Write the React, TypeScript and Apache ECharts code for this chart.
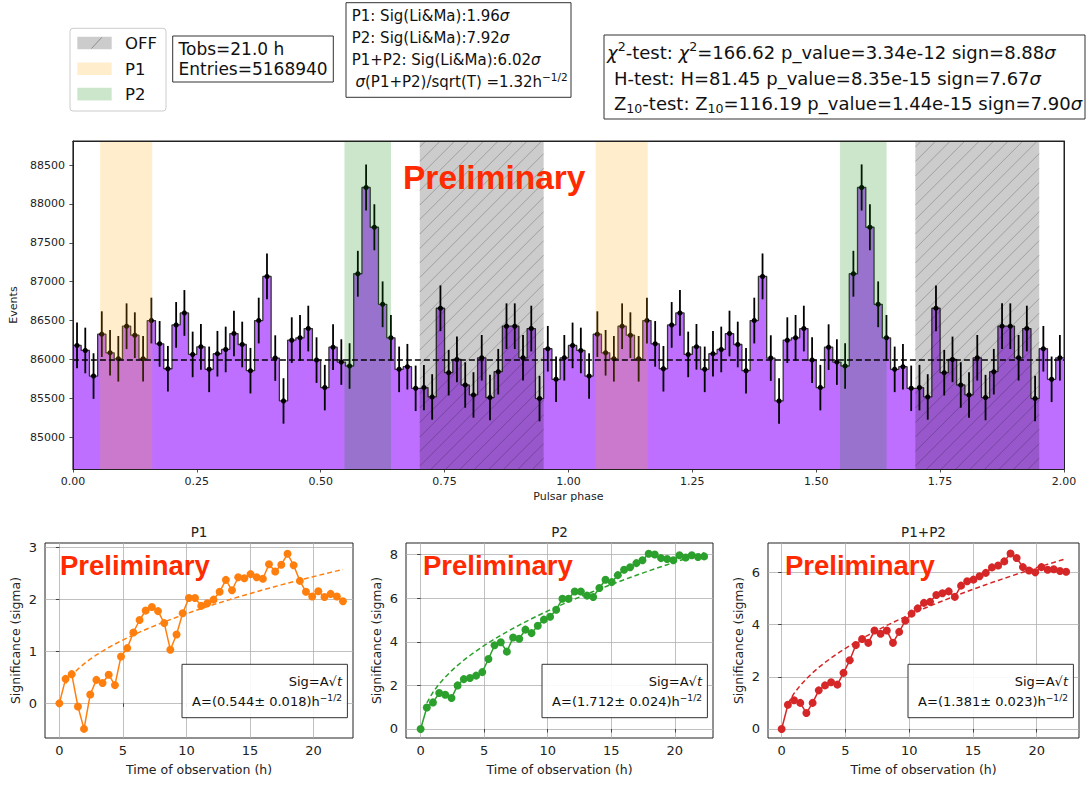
import React, { useEffect, useRef } from 'react';
import * as echarts from 'echarts';

// ---------------- Phasogram (one pulsar cycle, 60 bins; drawn twice over phase 0-2) ----------------
const BINS_PER_CYCLE = 60;
const CYCLES = 2;
const COUNTS = [
  86180, 86115, 85786, 86325, 86085, 86008, 86427, 86312, 86008, 86500,
  86200, 85880, 86444, 86598, 86064, 86162, 85872, 86073, 86128, 86333,
  86192, 85855, 86500, 87068, 86017, 85466, 86248, 86278, 86397, 85991,
  85637, 86158, 85966, 85915, 87102, 88212, 87700, 86709, 86278, 85872,
  85906, 85628, 85637, 85517, 86658, 85829, 86000, 85671, 85543, 86021,
  85509, 85842, 86427, 86427, 86021, 86397, 85496, 86137, 85744, 86021,
];
const BASELINE_LEVEL = 86000;
const OFF_RANGES = [[0.7, 0.95], [1.7, 1.95]];
const P1_RANGES = [[0.055, 0.16], [1.055, 1.16]];
const P2_RANGES = [[0.548, 0.642], [1.548, 1.642]];
const PHASE_TICKS = [0, 0.25, 0.5, 0.75, 1, 1.25, 1.5, 1.75, 2];
const EVENT_TICKS = [85000, 85500, 86000, 86500, 87000, 87500, 88000, 88500];

// ---------------- Significance vs. observation time ----------------
const HOURS = [
  0, 0.49, 0.97, 1.46, 1.94, 2.43, 2.91, 3.4, 3.88, 4.37, 4.85, 5.34, 5.82, 6.31, 6.79, 7.28,
  7.76, 8.25, 8.73, 9.22, 9.7, 10.19, 10.67, 11.16, 11.64, 12.13, 12.61, 13.1, 13.58, 14.07,
  14.55, 15.04, 15.52, 16.01, 16.49, 16.98, 17.46, 17.95, 18.43, 18.92, 19.4, 19.89, 20.37,
  20.86, 21.34, 21.83, 22.31,
];
const SIG_P1 = [
  0, 0.47, 0.56, -0.06, -0.49, 0.17, 0.45, 0.39, 0.55, 0.35,
  0.9, 1.06, 1.36, 1.6, 1.78, 1.85, 1.77, 1.54, 1.03, 1.32,
  1.73, 2.02, 2.02, 1.87, 1.92, 1.99, 2.14, 2.37, 2.17, 2.42,
  2.4, 2.48, 2.42, 2.39, 2.67, 2.53, 2.66, 2.87, 2.65, 2.35,
  2.14, 2.05, 2.15, 2.04, 2.1, 2.05, 1.96,
];
const SIG_P2 = [
  0, 0.99, 1.22, 1.65, 1.57, 1.42, 2.0, 2.29, 2.34, 2.45,
  2.61, 3.21, 3.84, 3.98, 3.55, 4.2, 4.14, 4.56, 4.4, 4.74,
  5.02, 5.15, 5.47, 5.98, 5.98, 6.31, 6.31, 6.12, 6.06, 6.47,
  6.85, 6.74, 7.06, 7.31, 7.42, 7.61, 7.74, 8.04, 8.01, 7.84,
  7.8, 7.74, 7.97, 7.87, 7.97, 7.89, 7.92,
];
const SIG_P1P2 = [
  0, 0.93, 1.1, 1.0, 0.61, 1.0, 1.48, 1.67, 1.79, 1.7,
  2.15, 2.63, 3.22, 3.45, 3.3, 3.77, 3.65, 3.77, 3.3, 3.72,
  4.15, 4.42, 4.62, 4.83, 4.87, 5.13, 5.2, 5.27, 5.06, 5.49,
  5.66, 5.72, 5.85, 5.98, 6.19, 6.26, 6.42, 6.72, 6.55, 6.2,
  6.07, 6.0, 6.2, 6.1, 6.12, 6.05, 6.02,
];
const PANEL_NAMES = ['P1', 'P2', 'P1+P2'];
const FIT_A = [0.544, 1.712, 1.381];
const FIT_A_ERR = ['0.018', '0.024', '0.023'];
const TIME_TICKS = [0, 5, 10, 15, 20];
const SIG_TICKS = [[0, 1, 2, 3], [0, 2, 4, 6, 8], [0, 2, 4, 6]];

// ---------------- styling / layout ----------------
const FONT = "DejaVu Sans";
const F = (size: number, extra = '') => `${extra} ${size}px 'DejaVu Sans'`.trim();
const BOLD = (size: number) => `bold ${size}px 'Liberation Sans', Arial, sans-serif`;
const INK = '#222';
const PRELIM = '#ff2a00';
const PANEL_COLORS = ['#ff7f0e', '#2ca02c', '#d62728'];
const PANEL_GRIDS = [
  { left: 45, top: 543, width: 308, height: 195 },
  { left: 406, top: 543, width: 307, height: 195 },
  { left: 768, top: 543, width: 311, height: 195 },
];
const PANEL_X = [[-1.13, 23.1], [-1.15, 23.01], [-1.07, 23.32]];
const PANEL_Y = [[-0.665, 3.077], [-0.413, 8.535], [-0.345, 7.124]];
const BAND_FILL = ['rgba(0,0,0,0.2)', 'rgba(255,165,0,0.2)', 'rgba(0,128,0,0.2)'];

const tick = (values: number[]) => ({
  show: true, inside: false, length: 3.5, customValues: values,
  lineStyle: { color: INK, width: 0.8 },
});
const label = (values: number[], size: number, margin: number, formatter?: any) => ({
  show: true, customValues: values, color: INK, fontSize: size, fontFamily: FONT, margin,
  formatter: formatter || ((v: number) => String(v)),
});

function gtext(x: number, y: number, text: string, font: string, opts: any = {}) {
  return {
    type: 'text', x, y, z: 100, silent: true,
    style: {
      text, font, fill: opts.fill || '#111',
      align: opts.align || 'left', verticalAlign: 'middle',
      textAlign: opts.align || 'left', textVerticalAlign: 'middle',
      ...(opts.lineHeight ? { lineHeight: opts.lineHeight } : {}),
      ...(opts.rich ? { rich: opts.rich } : {}),
    },
  };
}
function richSet(size: number, lh: number) {
  const sup = Math.round(size * 0.7 * 10) / 10;
  return {
    i: { font: F(size, 'italic'), fill: '#111', lineHeight: lh },
    sup: { font: F(sup), fill: '#111', lineHeight: sup + 1, verticalAlign: 'top' },
    sub: { font: F(sup), fill: '#111', lineHeight: sup + 5, verticalAlign: 'bottom' },
  };
}
function box(x: number, y: number, w: number, h: number, stroke = '#333', r = 0) {
  return {
    type: 'rect', z: 99, silent: true,
    shape: { x, y, width: w, height: h, r },
    style: { fill: 'rgba(255,255,255,0.9)', stroke, lineWidth: 1 },
  };
}

function buildOption() {
  const binW = 1 / BINS_PER_CYCLE;
  const nBins = BINS_PER_CYCLE * CYCLES;
  const stepData: number[][] = [];
  const errData: number[][] = [];
  for (let i = 0; i < nBins; i++) {
    const v = COUNTS[i % BINS_PER_CYCLE];
    stepData.push([i * binW, v]);
    errData.push([(i + 0.5) * binW, v, Math.sqrt(v)]);
  }
  stepData.push([CYCLES, COUNTS[BINS_PER_CYCLE - 1]]);
  const bandData = [
    ...OFF_RANGES.map((r) => [r[0], r[1], 0]),
    ...P1_RANGES.map((r) => [r[0], r[1], 1]),
    ...P2_RANGES.map((r) => [r[0], r[1], 2]),
  ];

  const frameLine = { show: true, onZero: false, lineStyle: { color: INK, width: 1 } };

  const xAxis: any[] = [
    {
      type: 'value', gridIndex: 0, min: 0, max: 2, z: 10,
      axisLine: frameLine, axisTick: tick(PHASE_TICKS),
      axisLabel: label(PHASE_TICKS, 11, 7, (v: number) => v.toFixed(2)),
      splitLine: { show: false },
      name: 'Pulsar phase', nameLocation: 'middle', nameGap: 22,
      nameTextStyle: { fontSize: 11, color: INK, fontFamily: FONT },
    },
    {
      type: 'value', gridIndex: 0, min: 0, max: 2, position: 'top', z: 10,
      axisLine: frameLine, axisTick: { show: false }, axisLabel: { show: false }, splitLine: { show: false },
    },
  ];
  const yAxis: any[] = [
    {
      type: 'value', gridIndex: 0, min: 84590, max: 88810, z: 10,
      axisLine: frameLine, axisTick: tick(EVENT_TICKS),
      axisLabel: label(EVENT_TICKS, 11, 8),
      splitLine: { show: false },
      name: 'Events', nameLocation: 'middle', nameGap: 52,
      nameTextStyle: { fontSize: 11, color: INK, fontFamily: FONT },
    },
    {
      type: 'value', gridIndex: 0, min: 0, max: 1, position: 'right', z: 10,
      axisLine: frameLine, axisTick: { show: false }, axisLabel: { show: false }, splitLine: { show: false },
    },
  ];

  const series: any[] = [
    {
      type: 'line', name: 'Events', xAxisIndex: 0, yAxisIndex: 0, data: stepData,
      step: 'end', symbol: 'none', silent: true, z: 2,
      lineStyle: { color: '#333', width: 1.3 },
      areaStyle: { color: '#bf6fff', opacity: 1, origin: 'start' },
      markLine: {
        silent: true, symbol: ['none', 'none'], label: { show: false },
        lineStyle: { color: '#000', type: [6, 3], width: 1.5 },
        data: [{ yAxis: BASELINE_LEVEL }],
      },
    },
    {
      type: 'custom', name: 'errors', xAxisIndex: 0, yAxisIndex: 0, data: errData, z: 3, silent: true,
      encode: { x: 0, y: 1 },
      renderItem: (params: any, api: any) => {
        const x = api.value(0), v = api.value(1), e = api.value(2);
        const hi = api.coord([x, v + e]);
        const lo = api.coord([x, v - e]);
        const c = api.coord([x, v]);
        return {
          type: 'group',
          children: [
            { type: 'line', shape: { x1: hi[0], y1: hi[1], x2: lo[0], y2: lo[1] }, style: { stroke: '#000', lineWidth: 1.8 } },
            { type: 'circle', shape: { cx: c[0], cy: c[1], r: 2.6 }, style: { fill: '#000' } },
          ],
        };
      },
    },
    {
      type: 'custom', name: 'bands', xAxisIndex: 0, yAxisIndex: 0, data: bandData, z: 4, silent: true,
      encode: { x: [0, 1] },
      renderItem: (params: any, api: any) => {
        const cs = params.coordSys;
        const kind = api.value(2);
        const xL = api.coord([api.value(0), EVENT_TICKS[0]])[0];
        const xR = api.coord([api.value(1), EVENT_TICKS[0]])[0];
        const top = cs.y, bottom = cs.y + cs.height;
        const children: any[] = [
          { type: 'rect', shape: { x: xL, y: top, width: xR - xL, height: bottom - top }, style: { fill: BAND_FILL[kind] } },
        ];
        if (kind === 0) {
          const s = 14.5;
          for (let k = xL + top + 6; k <= xR + bottom; k += s) {
            const xa = Math.max(xL, k - bottom);
            const xb = Math.min(xR, k - top);
            if (xb > xa) {
              children.push({
                type: 'line', shape: { x1: xa, y1: k - xa, x2: xb, y2: k - xb },
                style: { stroke: 'rgba(0,0,0,0.22)', lineWidth: 1 },
              });
            }
          }
        }
        return { type: 'group', children };
      },
    },
  ];

  const grid: any[] = [
    { left: 72, top: 141, width: 992, height: 328, show: true, borderColor: INK, borderWidth: 1, backgroundColor: '#fff' },
  ];

  const graphic: any[] = [];
  const sigs = [SIG_P1, SIG_P2, SIG_P1P2];

  PANEL_GRIDS.forEach((g, k) => {
    const gi = k + 1;       // grid index
    const ai = k + 2;       // axis index (0,1 are the main chart's axes)
    grid.push({ ...g, show: true, borderColor: INK, borderWidth: 1, backgroundColor: '#fff' });
    xAxis.push({
      type: 'value', gridIndex: gi, min: PANEL_X[k][0], max: PANEL_X[k][1],
      axisLine: { show: false }, axisTick: tick(TIME_TICKS), axisLabel: label(TIME_TICKS, 13, 6),
      splitLine: { show: true, lineStyle: { color: '#b0b0b0', width: 0.8 } },
      name: 'Time of observation (h)', nameLocation: 'middle', nameGap: 25,
      nameTextStyle: { fontSize: 12.5, color: INK, fontFamily: FONT },
    });
    yAxis.push({
      type: 'value', gridIndex: gi, min: PANEL_Y[k][0], max: PANEL_Y[k][1],
      axisLine: { show: false }, axisTick: tick(SIG_TICKS[k]), axisLabel: label(SIG_TICKS[k], 13, 8),
      splitLine: { show: true, lineStyle: { color: '#b0b0b0', width: 0.8 } },
      name: 'Significance (sigma)', nameLocation: 'middle', nameGap: 23,
      nameTextStyle: { fontSize: 12.5, color: INK, fontFamily: FONT },
    });
    const color = PANEL_COLORS[k];
    series.push({
      type: 'line', name: PANEL_NAMES[k] + ' fit', xAxisIndex: ai, yAxisIndex: ai, z: 2, silent: true,
      data: HOURS.slice(1).map((t) => [t, FIT_A[k] * Math.sqrt(t)]),
      symbol: 'none', lineStyle: { color, width: 1.5, type: [5, 3] },
    });
    series.push({
      type: 'line', name: PANEL_NAMES[k], xAxisIndex: ai, yAxisIndex: ai, z: 3, silent: true,
      data: HOURS.map((t, i) => [t, sigs[k][i]]),
      symbol: 'circle', symbolSize: 8, showSymbol: true,
      itemStyle: { color }, lineStyle: { color, width: 1.5 },
    });

    // panel title
    graphic.push(gtext(g.left + g.width / 2, 531.5, PANEL_NAMES[k], F(13.5), { align: 'center', fill: INK }));
    // preliminary stamp
    graphic.push(gtext(g.left + 15 + (k === 0 ? 0 : 2), 565, 'Preliminary', BOLD(27.5), { fill: PRELIM }));
    // fit legend box
    const bx = g.left + g.width - 171;
    graphic.push(box(bx, 664.3, 165.4, 53.4, '#333'));
    const rx = bx + 160;
    const r13 = richSet(13, 17);
    graphic.push(gtext(rx, 681.7, 'Sig=A√{i|t}', F(13), { align: 'right', lineHeight: 17, rich: r13 }));
    graphic.push(gtext(rx, 701.7, `A=(${FIT_A[k].toFixed(3)}± ${FIT_A_ERR[k]})h{sup|−1/2}`, F(13), { align: 'right', lineHeight: 17, rich: r13 }));
  });

  // main chart stamp
  graphic.push(gtext(403, 177, 'Preliminary', BOLD(33.5), { fill: PRELIM }));

  // legend box (OFF / P1 / P2)
  graphic.push(box(70, 28.3, 96, 82.7, '#cccccc', 3));
  graphic.push({ type: 'rect', z: 100, silent: true, shape: { x: 77.3, y: 36.7, width: 34.4, height: 12.6 }, style: { fill: BAND_FILL[0] } });
  graphic.push({ type: 'line', z: 101, silent: true, shape: { x1: 91.5, y1: 48.5, x2: 101.8, y2: 37.3 }, style: { stroke: 'rgba(0,0,0,0.3)', lineWidth: 1 } });
  graphic.push({ type: 'rect', z: 100, silent: true, shape: { x: 77.3, y: 62.5, width: 34.4, height: 12.6 }, style: { fill: BAND_FILL[1] } });
  graphic.push({ type: 'rect', z: 100, silent: true, shape: { x: 77.3, y: 87.8, width: 34.4, height: 12.6 }, style: { fill: BAND_FILL[2] } });
  graphic.push(gtext(125, 43, 'OFF', F(16.5)));
  graphic.push(gtext(125, 69, 'P1', F(16.5)));
  graphic.push(gtext(125, 94, 'P2', F(16.5)));

  // observation box
  graphic.push(box(172.7, 36, 160.6, 46));
  graphic.push(gtext(178.5, 49, 'Tobs=21.0 h', F(17)));
  graphic.push(gtext(178.5, 68.7, 'Entries=5168940', F(17)));

  // Li&Ma significance box
  const r15 = richSet(15, 21);
  graphic.push(box(346, 2.7, 225, 94.6));
  graphic.push(gtext(351.7, 16, 'P1: Sig(Li&Ma):1.96{i|σ}', F(15), { lineHeight: 21, rich: r15 }));
  graphic.push(gtext(351.7, 37.5, 'P2: Sig(Li&Ma):7.92{i|σ}', F(15), { lineHeight: 21, rich: r15 }));
  graphic.push(gtext(351.7, 59.5, 'P1+P2: Sig(Li&Ma):6.02{i|σ}', F(15), { lineHeight: 21, rich: r15 }));
  graphic.push(gtext(355.5, 81.5, '{i|σ}(P1+P2)/sqrt(T) =1.32h{sup|−1/2}', F(15), { lineHeight: 21, rich: r15 }));

  // periodicity tests box
  const r18 = richSet(18, 24);
  graphic.push(box(604, 35, 481, 84));
  graphic.push(gtext(607, 52, '{i|χ}{sup|2}-test: {i|χ}{sup|2}=166.62 p_value=3.34e-12 sign=8.88{i|σ}', F(18), { lineHeight: 24, rich: r18 }));
  graphic.push(gtext(614, 78.3, 'H-test: H=81.45 p_value=8.35e-15 sign=7.67{i|σ}', F(18), { lineHeight: 24, rich: r18 }));
  graphic.push(gtext(614, 103.3, 'Z{sub|10}-test: Z{sub|10}=116.19 p_value=1.44e-15 sign=7.90{i|σ}', F(18), { lineHeight: 24, rich: r18 }));

  return {
    animation: false,
    backgroundColor: '#fff',
    textStyle: { fontFamily: FONT },
    grid, xAxis, yAxis, series, graphic,
  };
}

export default function App() {
  const ref = useRef<HTMLDivElement>(null);
  useEffect(() => {
    document.body.style.margin = '0';
    const chart = echarts.init(ref.current as HTMLDivElement, null, { renderer: 'svg' });
    chart.setOption(buildOption() as any);
    return () => chart.dispose();
  }, []);
  return <div ref={ref} style={{ width: 1087, height: 785 }} />;
}
